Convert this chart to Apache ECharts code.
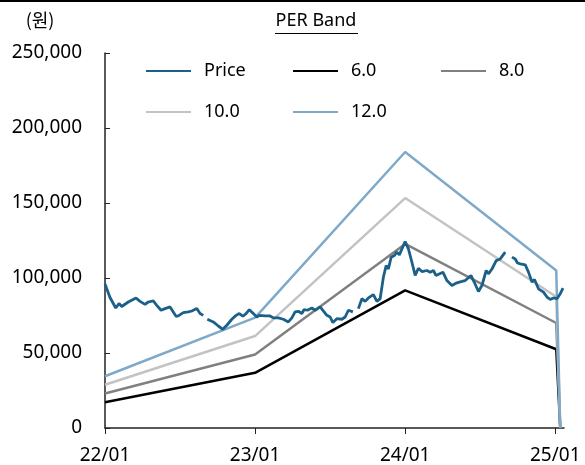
<!DOCTYPE html>
<html>
<head>
<meta charset="utf-8">
<script src="https://cdn.jsdelivr.net/npm/echarts@6/dist/echarts.min.js"></script>
<style>
html,body{margin:0;padding:0;background:#fff;}
#chart{width:585px;height:465px;}
</style>
</head>
<body>
<div id="chart"></div>
<script>
// x positions are in months since 22/01
var xTickValues = [0, 12, 24, 36];
var xTickLabels = ['22/01', '23/01', '24/01', '25/01'];

var priceX = [0.0,0.4,0.86,1.12,1.34,1.86,2.48,2.8,3.2,3.46,3.86,4.14,4.48,4.8,5.2,5.68,5.86,6.26,6.66,6.94,7.34,7.6,7.86,
  8.02,
  8.18,8.66,9.06,9.42,9.74,10.14,10.48,10.74,11.02,11.28,11.54,11.86,12.14,12.34,12.8,13.2,13.46,13.86,14.26,14.66,14.94,15.2,15.46,15.74,15.92,16.18,16.54,16.8,17.2,17.34,17.74,18.0,18.22,18.54,18.94,19.2,19.46,19.82,
  20.04,
  20.26,20.54,20.8,21.06,21.46,21.74,22.0,22.26,22.48,22.66,22.88,23.14,23.34,23.54,23.74,24.0,24.26,24.54,24.8,25.06,25.34,25.74,26.0,26.26,26.46,27.02,27.34,27.74,28.14,28.54,28.8,29.26,29.52,29.86,30.14,30.48,30.66,30.94,31.28,31.6,32.0,
  32.27,
  32.54,32.8,32.98,33.2,33.6,33.86,34.14,34.34,34.66,35.06,35.34,35.6,35.86,36.14,36.4,36.62];
var priceY = [96000,87000,80000,83000,81000,84000,86700,84400,82400,84000,84700,81800,78500,79600,80700,74500,74700,76900,77400,78000,79600,76300,75100,
  null,
  72500,70700,68000,65800,68500,72500,75100,76300,74500,76300,78900,76300,74000,75100,74700,74700,73400,73400,72500,70700,73400,77400,77800,76300,79000,78500,80000,78500,80700,79600,75100,74000,70300,72900,72500,74000,78500,77400,
  null,
  79600,86200,84400,86700,88900,84400,86200,100600,108300,106000,113900,115000,117200,115400,119400,124200,119400,110500,101700,106500,104300,105000,103900,105000,101700,103900,98300,95000,96800,97700,98300,101700,97300,91000,95000,105000,102800,106000,111600,112700,117200,
  null,
  113900,112700,110000,109400,108800,103900,97300,99000,92800,90600,87300,85700,86700,86200,89500,93300];

var bandX = [0, 12, 24, 36.08, 36.4];
var per6 = [17200, 36800, 91800, 52500, 0];
var per8 = [23000, 49000, 122700, 70000, 0];
var per10 = [28800, 61300, 153300, 87500, 0];
var per12 = [34500, 73600, 184000, 105000, 0];

var seriesNames = ['Price', '6.0', '8.0', '10.0', '12.0'];
var yMin = 0, yMax = 250000, yStep = 50000;

function zip(xs, ys) { return xs.map(function (x, i) { return [x, ys[i]]; }); }

var colors = ['#1b6089', '#000000', '#808080', '#c3c3c3', '#7fa9c8'];
var font = "'Noto Sans', 'Noto Sans CJK KR', sans-serif";

var chart = echarts.init(document.getElementById('chart'), null, {renderer: 'canvas'});

function mkLegend(name, left, top) {
  return {
    data: [name], left: left, top: top, padding: 0,
    itemWidth: 45, itemHeight: 14,
    itemStyle: {opacity: 0},
    textStyle: {fontFamily: font, fontSize: 18, color: '#000', padding: [0, 0, 0, 8]},
    selectedMode: false
  };
}

var bandSeries = [per6, per8, per10, per12].map(function (vals, i) {
  return {
    name: seriesNames[i + 1], type: 'line', data: zip(bandX, vals),
    symbol: 'none', showSymbol: false, z: 2,
    lineStyle: {color: colors[i + 1], width: 2.5},
    itemStyle: {color: colors[i + 1]}
  };
});

var option = {
  animation: false,
  backgroundColor: '#fff',
  grid: {left: 105, right: 21, top: 53, bottom: 35, containLabel: false},
  legend: [
    mkLegend('Price', 145, 62),
    mkLegend('6.0', 292, 62),
    mkLegend('8.0', 440, 62),
    mkLegend('10.0', 145, 103),
    mkLegend('12.0', 292, 103)
  ],
  xAxis: {
    type: 'value', min: 0, max: 36.7, interval: 12,
    axisLine: {show: true, lineStyle: {color: '#222', width: 1.5}},
    axisTick: {show: true, length: 6, lineStyle: {color: '#222'}, customValues: xTickValues},
    axisLabel: {
      customValues: xTickValues,
      fontFamily: font, fontSize: 19, color: '#000', margin: 18,
      formatter: function (v) { var i = xTickValues.indexOf(v); return i >= 0 ? xTickLabels[i] : ''; }
    },
    splitLine: {show: false}
  },
  yAxis: {
    type: 'value', min: yMin, max: yMax, interval: yStep,
    axisLine: {show: true, lineStyle: {color: '#222', width: 1.5}},
    axisTick: {show: true, inside: true, length: 5, lineStyle: {color: '#222'}},
    axisLabel: {
      fontFamily: font, fontSize: 19, color: '#000', margin: 23,
      formatter: function (v) { return v.toLocaleString('en-US'); }
    },
    splitLine: {show: false}
  },
  graphic: [
    {type: 'rect', shape: {x: 0, y: 0, width: 585, height: 2}, style: {fill: '#000'}},
    {type: 'text', x: 40, y: 20, style: {text: '(원)', font: "18px 'Noto Sans CJK KR', 'Noto Sans', sans-serif", fill: '#000', textAlign: 'center', textVerticalAlign: 'middle'}},
    {type: 'text', x: 316, y: 21, style: {text: 'PER Band', font: "18px 'Noto Sans', sans-serif", fill: '#000', textAlign: 'center', textVerticalAlign: 'middle'}},
    {type: 'line', shape: {x1: 275, y1: 33.5, x2: 358, y2: 33.5}, style: {stroke: '#000', lineWidth: 1}}
  ],
  series: [
    {
      name: 'Price', type: 'line', data: zip(priceX, priceY),
      symbol: 'none', showSymbol: false, connectNulls: false, z: 3,
      lineStyle: {color: colors[0], width: 2.8},
      itemStyle: {color: colors[0]}
    }
  ].concat(bandSeries)
};
chart.setOption(option);
</script>
</body>
</html>
